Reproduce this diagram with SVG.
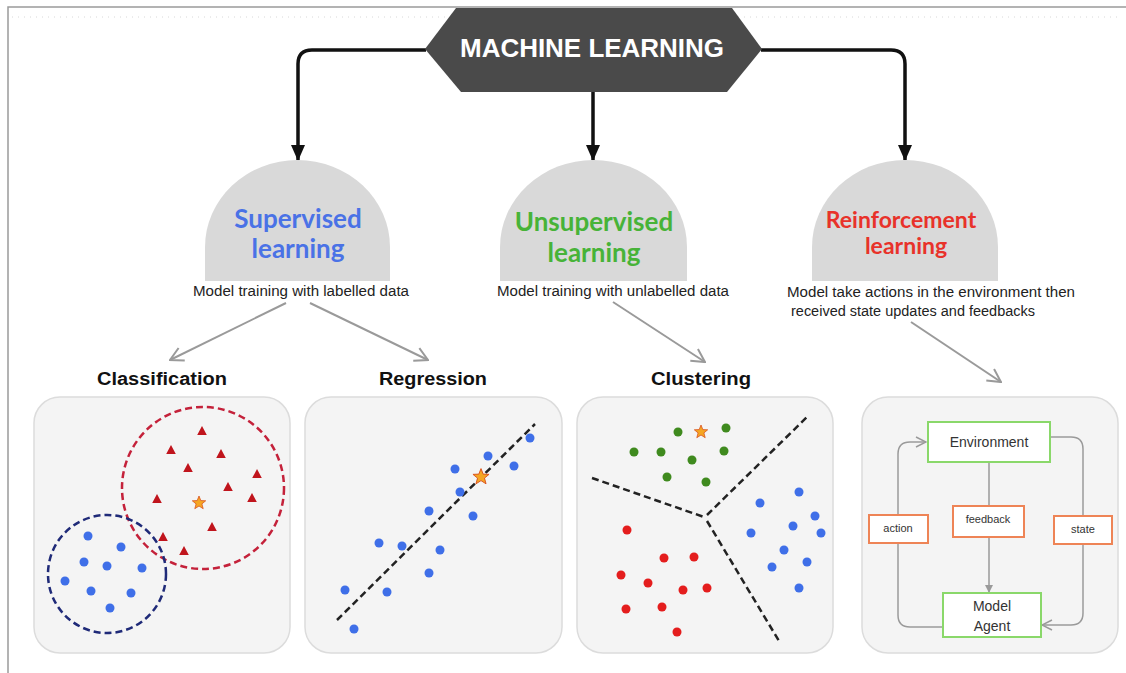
<svg xmlns="http://www.w3.org/2000/svg" width="1126" height="673" viewBox="0 0 1126 673">
<defs>
<style>
.frame{fill:#ffffff;stroke:#9a9a9a;stroke-width:1.5}
.dots{stroke:#d8d8d8;stroke-width:1;stroke-dasharray:1 5}
.conn{fill:none;stroke:#111;stroke-width:3.5}
.gconn{fill:none;stroke:#9a9a9a;stroke-width:2}
.dome{fill:#d9d9d9}
.head{font-family:"Lato","Open Sans",sans-serif;font-weight:bold;text-anchor:middle}
.sub{font-family:"Liberation Sans","Open Sans",sans-serif;font-size:14px;fill:#222;text-anchor:middle}
.cat{font-family:"Liberation Sans",sans-serif;font-weight:bold;font-size:18px;fill:#111;text-anchor:middle}
.panel{fill:#f4f4f4;stroke:#dcdcdc;stroke-width:1.5}
.bd{fill:#3f6fe8}
.rd{fill:#e41d1d}
.gd{fill:#3f8a1e}
.tri{fill:#c0141c}
.star{fill:#f5a623;stroke:#d9531e;stroke-width:0.8}
.dash{fill:none;stroke:#222;stroke-width:2.5;stroke-dasharray:7 4}
.gbox{fill:#ffffff;stroke:#8ad86a;stroke-width:2}
.obox{fill:#ffffff;stroke:#ee8456;stroke-width:2}
.rl{font-family:"Liberation Sans",sans-serif;font-size:14px;fill:#333;text-anchor:middle}
.rs{font-family:"Liberation Sans",sans-serif;font-size:11px;fill:#333;text-anchor:middle}
.loop{fill:none;stroke:#9a9a9a;stroke-width:1.5}
</style>
<marker id="bh" markerUnits="userSpaceOnUse" markerWidth="16" markerHeight="14" viewBox="0 0 16 14" refX="15" refY="7" orient="auto">
<path d="M0,0 L16,7 L0,14 Z" fill="#111"/>
</marker>
<marker id="gh" markerUnits="userSpaceOnUse" markerWidth="16" markerHeight="16" viewBox="0 0 16 16" refX="15" refY="8" orient="auto">
<path d="M2,1 L15,8 L2,15" fill="none" stroke="#9a9a9a" stroke-width="2"/>
</marker>
<marker id="sh" markerUnits="userSpaceOnUse" markerWidth="12" markerHeight="12" viewBox="0 0 12 12" refX="11" refY="6" orient="auto">
<path d="M1,1 L11,6 L1,11" fill="none" stroke="#9a9a9a" stroke-width="1.5"/>
</marker>
<marker id="vh" markerUnits="userSpaceOnUse" markerWidth="8" markerHeight="8" viewBox="0 0 8 8" refX="7" refY="4" orient="auto">
<path d="M0,0 L8,4 L0,8 Z" fill="#9a9a9a"/>
</marker>
<path id="st" d="M0,-7 L1.8,-2.4 L6.7,-2.2 L2.9,0.9 L4.2,5.7 L0,3 L-4.2,5.7 L-2.9,0.9 L-6.7,-2.2 L-1.8,-2.4 Z"/>
<path id="tr" d="M0,-5 L4.8,4 L-4.8,4 Z"/>
</defs>

<rect class="frame" x="8" y="7" width="1130" height="680"/>
<line class="dots" x1="12" y1="17" x2="1120" y2="17"/>

<g id="connectors">
<path class="conn" d="M426,50 L312,50 Q298,50 298,64 L298,160" marker-end="url(#bh)"/>
<path class="conn" d="M593,92 L593,160" marker-end="url(#bh)"/>
<path class="conn" d="M761,50 L891,50 Q905,50 905,64 L905,160" marker-end="url(#bh)"/>
<path class="gconn" d="M286,303 L170,360" marker-end="url(#gh)"/>
<path class="gconn" d="M310,303 L428,360" marker-end="url(#gh)"/>
<path class="gconn" d="M613,302 L705,362" marker-end="url(#gh)"/>
<path class="gconn" d="M911,322 L1001,382" marker-end="url(#gh)"/>
</g>

<g id="machine-learning">
<polygon points="425,49 456,8 732,8 762,49 727,92 461,92" fill="#4a4a4a"/>
<text x="592" y="57" font-family="Liberation Sans,sans-serif" font-weight="bold" font-size="25" fill="#ffffff" text-anchor="middle" textLength="264" lengthAdjust="spacingAndGlyphs">MACHINE LEARNING</text>
</g>

<g id="supervised">
<path class="dome" d="M205,281 L205,247 A92.5,87 0 0 1 390,247 L390,281 Z"/>
<text class="head" x="298" y="228" font-size="26" fill="#4a72e6">Supervised</text>
<text class="head" x="298" y="258" font-size="26" fill="#4a72e6">learning</text>
<text class="sub" x="301" y="296" textLength="216" lengthAdjust="spacingAndGlyphs">Model training with labelled data</text>
</g>

<g id="unsupervised">
<path class="dome" d="M500,281 L500,247 A93.5,87 0 0 1 687,247 L687,281 Z"/>
<text class="head" x="594" y="231" font-size="26" fill="#47b338">Unsupervised</text>
<text class="head" x="594" y="262" font-size="26" fill="#47b338">learning</text>
<text class="sub" x="613" y="296" textLength="232" lengthAdjust="spacingAndGlyphs">Model training with unlabelled data</text>
</g>

<g id="reinforcement">
<path class="dome" d="M812,281 L812,247 A93,87 0 0 1 998,247 L998,281 Z"/>
<text class="head" x="901" y="228" font-size="23" fill="#e8322a">Reinforcement</text>
<text class="head" x="906" y="254" font-size="23" fill="#e8322a">learning</text>
<text class="sub" x="931" y="297" textLength="288" lengthAdjust="spacingAndGlyphs">Model take actions in the environment then</text>
<text class="sub" x="913" y="316" textLength="244" lengthAdjust="spacingAndGlyphs">received state updates and feedbacks</text>
</g>

<g id="classification">
<text class="cat" x="162" y="385" textLength="130" lengthAdjust="spacingAndGlyphs">Classification</text>
<rect class="panel" x="34" y="397" width="256" height="256" rx="26"/>
<circle cx="203" cy="488" r="81" fill="none" stroke="#c4213a" stroke-width="2.5" stroke-dasharray="7 4"/>
<circle cx="107" cy="574" r="59" fill="none" stroke="#1f2a78" stroke-width="2.5" stroke-dasharray="7 4"/>
<g class="tri">
<use href="#tr" x="202" y="431"/><use href="#tr" x="171" y="450"/><use href="#tr" x="221" y="454"/>
<use href="#tr" x="188" y="468"/><use href="#tr" x="257" y="474"/><use href="#tr" x="228" y="487"/>
<use href="#tr" x="252" y="498"/><use href="#tr" x="157" y="499"/><use href="#tr" x="212" y="527"/>
<use href="#tr" x="163" y="537"/><use href="#tr" x="184" y="551"/>
</g>
<use href="#st" class="star" x="199" y="503"/>
<g class="bd">
<circle cx="88" cy="536" r="4.5"/><circle cx="121" cy="547" r="4.5"/><circle cx="84" cy="562" r="4.5"/>
<circle cx="107" cy="566" r="4.5"/><circle cx="142" cy="568" r="4.5"/><circle cx="65" cy="581" r="4.5"/>
<circle cx="91" cy="591" r="4.5"/><circle cx="131" cy="593" r="4.5"/><circle cx="110" cy="608" r="4.5"/>
</g>
</g>

<g id="regression">
<text class="cat" x="433" y="385" textLength="108" lengthAdjust="spacingAndGlyphs">Regression</text>
<rect class="panel" x="305" y="397" width="257" height="256" rx="26"/>
<line class="dash" x1="337" y1="620" x2="535" y2="424"/>
<g class="bd">
<circle cx="530" cy="438" r="4.5"/><circle cx="488" cy="456" r="4.5"/><circle cx="514" cy="466" r="4.5"/>
<circle cx="455" cy="469" r="4.5"/><circle cx="460" cy="492" r="4.5"/><circle cx="473" cy="516" r="4.5"/>
<circle cx="429" cy="511" r="4.5"/><circle cx="440" cy="550" r="4.5"/><circle cx="402" cy="546" r="4.5"/>
<circle cx="379" cy="543" r="4.5"/><circle cx="429" cy="573" r="4.5"/><circle cx="345" cy="590" r="4.5"/>
<circle cx="387" cy="592" r="4.5"/><circle cx="354" cy="629" r="4.5"/>
</g>
<use href="#st" class="star" x="481" y="477" transform="translate(481 477) scale(1.2) translate(-481 -477)"/>
</g>

<g id="clustering">
<text class="cat" x="701" y="385" textLength="100" lengthAdjust="spacingAndGlyphs">Clustering</text>
<rect class="panel" x="577" y="397" width="256" height="256" rx="26"/>
<path class="dash" d="M592,478 L704,517 M707,515 L807,417 M707,521 L779,641"/>
<g class="gd">
<circle cx="678" cy="432" r="4.5"/><circle cx="726" cy="428" r="4.5"/><circle cx="634" cy="452" r="4.5"/>
<circle cx="661" cy="452" r="4.5"/><circle cx="692" cy="460" r="4.5"/><circle cx="724" cy="451" r="4.5"/>
<circle cx="667" cy="477" r="4.5"/><circle cx="706" cy="482" r="4.5"/>
</g>
<use href="#st" class="star" x="701" y="432"/>
<g class="bd">
<circle cx="799" cy="492" r="4.5"/><circle cx="760" cy="503" r="4.5"/><circle cx="815" cy="516" r="4.5"/>
<circle cx="793" cy="526" r="4.5"/><circle cx="751" cy="533" r="4.5"/><circle cx="821" cy="533" r="4.5"/>
<circle cx="784" cy="550" r="4.5"/><circle cx="807" cy="562" r="4.5"/><circle cx="772" cy="567" r="4.5"/>
<circle cx="799" cy="588" r="4.5"/>
</g>
<g class="rd">
<circle cx="627" cy="530" r="4.5"/><circle cx="664" cy="558" r="4.5"/><circle cx="694" cy="557" r="4.5"/>
<circle cx="621" cy="575" r="4.5"/><circle cx="648" cy="583" r="4.5"/><circle cx="683" cy="590" r="4.5"/>
<circle cx="707" cy="588" r="4.5"/><circle cx="626" cy="609" r="4.5"/><circle cx="662" cy="607" r="4.5"/>
<circle cx="677" cy="632" r="4.5"/>
</g>
</g>

<g id="reinforcement-loop">
<rect class="panel" x="862" y="397" width="256" height="256" rx="26"/>
<path class="loop" d="M943,627 L910,627 Q898,627 898,615 L898,454 Q898,442 910,442 L926,442" marker-end="url(#sh)"/>
<path class="loop" d="M1051,437 L1071,437 Q1083,437 1083,449 L1083,613 Q1083,625 1071,625 L1042,625" marker-end="url(#sh)"/>
<path class="loop" d="M989,462 L989,592" marker-end="url(#vh)"/>
<rect class="gbox" x="928" y="422" width="122" height="40"/>
<text class="rl" x="989" y="447">Environment</text>
<rect class="gbox" x="943" y="593" width="98" height="44"/>
<text class="rl" x="992" y="611">Model</text>
<text class="rl" x="992" y="631">Agent</text>
<rect class="obox" x="953" y="506" width="71" height="31"/>
<text class="rs" x="988" y="523">feedback</text>
<rect class="obox" x="869" y="515" width="59" height="28"/>
<text class="rs" x="898" y="532">action</text>
<rect class="obox" x="1054" y="516" width="58" height="28"/>
<text class="rs" x="1083" y="533">state</text>
</g>
</svg>
